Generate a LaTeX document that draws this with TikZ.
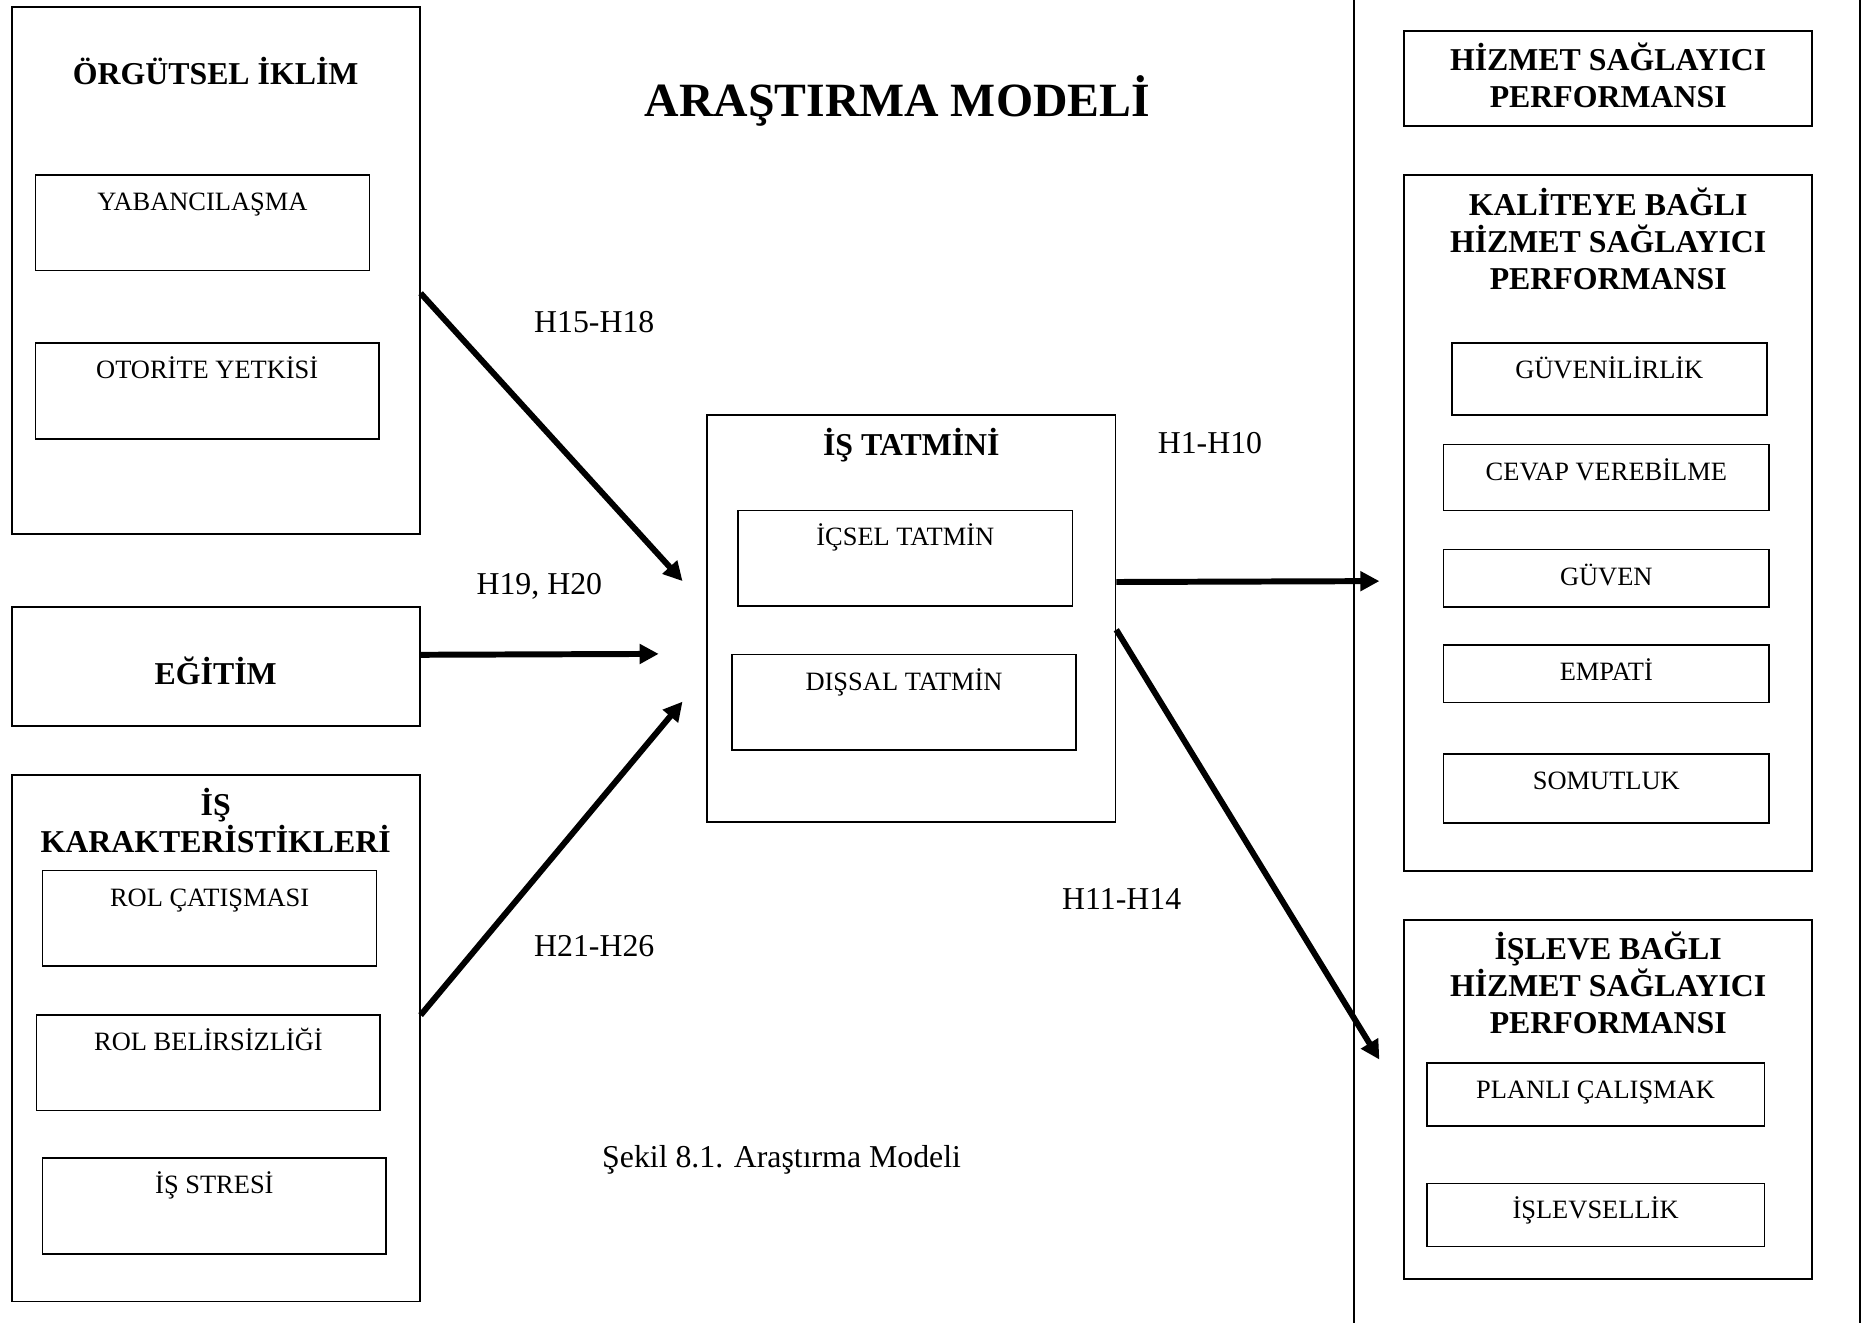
\documentclass[tikz,border=0pt]{standalone}
\usepackage{fontspec}
\setmainfont{Liberation Serif}
\usetikzlibrary{arrows.meta}

\newcommand\subfont{\fontsize{13.3}{15.5}\selectfont}
\newcommand\ttlfont{\fontsize{16}{18.6}\selectfont\bfseries}
\newcommand\hypfont{\fontsize{16}{19}\selectfont}
\newcommand\headfont{\fontsize{24}{28}\selectfont\bfseries}

\begin{document}
\begin{tikzpicture}[x=0.6pt, y=-0.6pt,
    frame/.style={draw, line width=0.9pt, anchor=north west, inner sep=0pt, minimum width=205.2pt, font=\ttlfont, align=center},
    sub/.style={draw, line width=0.8pt, anchor=north west, inner sep=0pt, font=\subfont, text height=17.85pt, text depth=#1},
    sub/.default=30.15pt,
    hyp/.style={font=\hypfont, inner sep=0pt},
    link/.style={line width=3pt, -{Triangle[length=9.6pt, width=9.6pt]}}]
    \useasboundingbox (0,0) rectangle (1568,1109);

    \node[font=\headfont] (baslik) at (752,85) {ARAŞTIRMA MODELİ};

    % sol taraf
    \node[frame, text height=38.85pt, text depth=226.35pt] (iklim) at (9,5) {ÖRGÜTSEL İKLİM};
    \node[sub, minimum width=168pt] (yab) at (29,146) {YABANCILAŞMA};
    \node[sub, minimum width=172.8pt] (oto) at (29,287) {OTORİTE YETKİSİ};

    \node[frame, text height=38.85pt, text depth=21.15pt] (egitim) at (9,508) {EĞİTİM};

    \node[frame, text height=38.85pt, text depth=225.75pt] (karak) at (9,649) {İŞ\\KARAKTERİSTİKLERİ};
    \node[sub, minimum width=168pt] (rolcat) at (35,729) {ROL ÇATIŞMASI};
    \node[sub, minimum width=172.8pt] (rolbel) at (30,850) {ROL BELİRSİZLİĞİ};
    \node[sub, minimum width=172.8pt] (stres) at (35,970) {İŞ STRESİ};

    % orta
    \node[frame, text height=20.25pt, text depth=184.35pt] (tatmin) at (592,347) {İŞ TATMİNİ};
    \node[sub, minimum width=168pt] (icsel) at (618,427) {İÇSEL TATMİN};
    \node[sub, minimum width=172.8pt] (dissal) at (613,548) {DIŞSAL TATMİN};

    % sag taraf
    \draw[line width=1pt] (1135,0) -- (1135,1109);
    \draw[line width=1pt] (1559,0) -- (1559,1109);

    \node[frame, text height=38.85pt, text depth=9.15pt] (hizmet) at (1176,25) {HİZMET SAĞLAYICI\\PERFORMANSI};

    \node[frame, text height=57.45pt, text depth=292.35pt] (kalite) at (1176,146) {KALİTEYE BAĞLI\\HİZMET SAĞLAYICI\\PERFORMANSI};
    \node[sub=18.15pt, minimum width=158.4pt] (guvenilir) at (1216,287) {GÜVENİLİRLİK};
    \node[sub=15.15pt, minimum width=163.8pt] (cevap) at (1209,372) {CEVAP VEREBİLME};
    \node[sub=10.95pt, minimum width=163.8pt] (guven) at (1209,460) {GÜVEN};
    \node[sub=10.95pt, minimum width=163.8pt] (empati) at (1209,540) {EMPATİ};
    \node[sub=16.95pt, minimum width=163.8pt] (somut) at (1209,631) {SOMUTLUK};

    \node[frame, text height=57.45pt, text depth=123.15pt] (islev) at (1176,770) {İŞLEVE BAĞLI\\HİZMET SAĞLAYICI\\PERFORMANSI};
    \node[sub=13.95pt, minimum width=169.8pt] (planli) at (1195,890) {PLANLI ÇALIŞMAK};
    \node[sub=13.95pt, minimum width=169.8pt] (islevsel) at (1195,991) {İŞLEVSELLİK};

    % hipotezler
    \node[hyp] (h1518) at (498,270) {H15-H18};
    \node[hyp] (h1920) at (452,491) {H19, H20};
    \node[hyp] (h2126) at (498,793) {H21-H26};
    \node[hyp] (h110) at (1014,371) {H1-H10};
    \node[hyp] (h1114) at (940,753) {H11-H14};
    \node[hyp] (sekil) at (655,972) {Şekil 8.1. Araştırma Modeli};

    % oklar
    \coordinate (uc1) at (572,487);
    \coordinate (uc2) at (552,548);
    \coordinate (uc3) at (572,588);
    \coordinate (uc4) at (1156,487);
    \coordinate (uc5) at (1156,888);

    \draw[link] ([yshift=-11.4pt]iklim.east) -- (uc1);
    \draw[link] ([yshift=6pt]egitim.east) -- (uc2);
    \draw[link] ([yshift=11.7pt]karak.east) -- (uc3);
    \draw[link] ([yshift=18.3pt]tatmin.east) -- (uc4);
    \draw[link] ([yshift=-5.7pt]tatmin.east) -- (uc5);
\end{tikzpicture}
\end{document}
